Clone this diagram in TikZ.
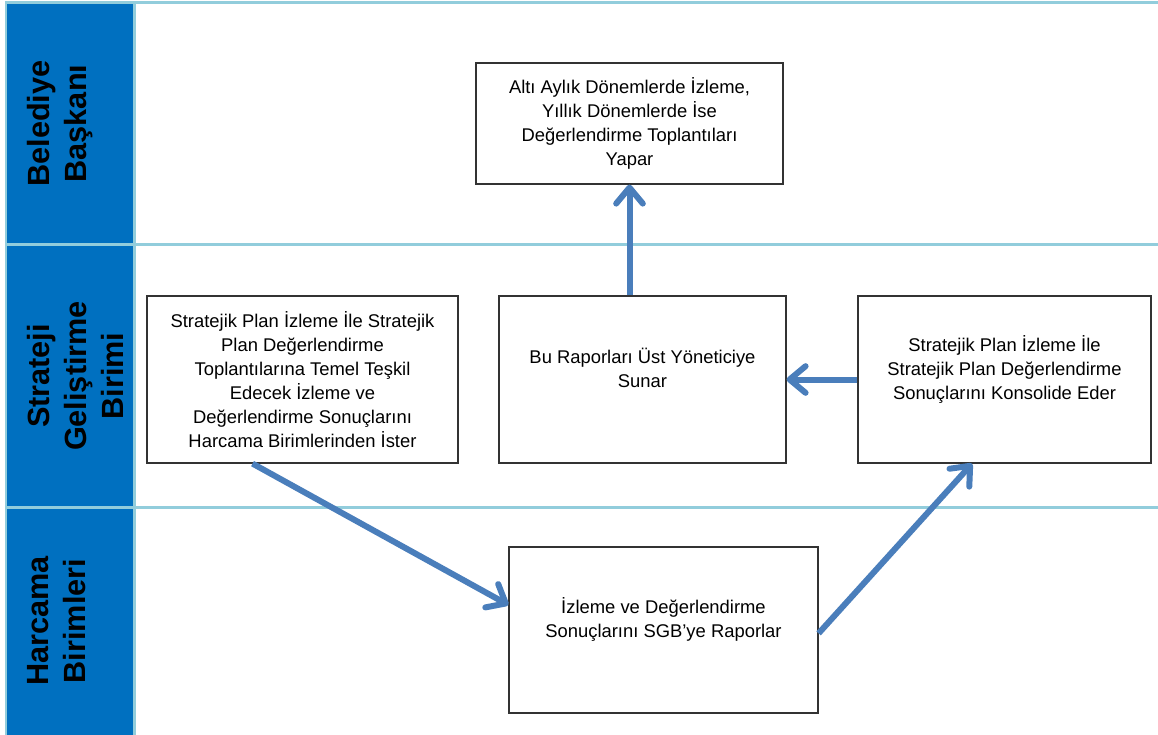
\documentclass[tikz,border=0pt]{standalone}
\usepackage{fontspec}
\setmainfont{Liberation Sans}
\usetikzlibrary{arrows.meta,calc}

\definecolor{lanefill}{HTML}{0070C0}
\definecolor{laneline}{HTML}{92CDDC}
\definecolor{flowblue}{HTML}{4A7EBB}

\begin{document}
\begin{tikzpicture}[x=0.75pt,y=-0.75pt,
	lanelabel/.style={rotate=90, anchor=north, align=center, inner sep=0pt, font=\fontsize{23}{27.75}\selectfont\bfseries},
	stepbox/.style={draw=black!80, line width=0.9pt, align=center, inner sep=0pt, font=\fontsize{13.8}{18}\selectfont},
	flow/.style={draw=flowblue, line width=4.5pt, -{Straight Barb[length=12pt,width=20pt,round]}},
	sep/.style={draw=laneline, line width=2.2pt}]
	\useasboundingbox (0,0) rectangle (1158,735);
	% swimlanes
	\fill[lanefill] (6,2) rectangle (134.5,735);
	\draw[sep] (6,735) -- (6,2.3) -- (1158,2.3);
	\draw[sep] (134.5,2.3) -- (134.5,735);
	\draw[sep] (6,244.5) -- (1158,244.5);
	\draw[sep] (6,507.3) -- (1158,507.3);
	\node[lanelabel] (baskan) at (27,123.5) {Belediye\\Başkanı};
	\node[lanelabel] (sgbirim) at (27,376) {Strateji\\Geliştirme\\Birimi};
	\node[lanelabel] (harcama) at (27,621) {Harcama\\Birimleri};
	% steps
	\node[stepbox, minimum width=230.25pt, minimum height=90.75pt] (toplanti) at (629.5,123.5)
		{Altı Aylık Dönemlerde İzleme,\\Yıllık Dönemlerde İse\\Değerlendirme Toplantıları\\Yapar};
	\node[stepbox, minimum width=233.25pt, minimum height=125.25pt] (iste) at (302.5,379.5)
		{Stratejik Plan İzleme İle Stratejik\\Plan Değerlendirme\\Toplantılarına Temel Teşkil\\Edecek İzleme ve\\Değerlendirme Sonuçlarını\\Harcama Birimlerinden İster};
	\node[stepbox, minimum width=215.25pt, minimum height=125.25pt] (sunar) at (642.5,379.5)
		{Bu Raporları Üst Yöneticiye\\Sunar\\\mbox{}};
	\node[stepbox, minimum width=219.75pt, minimum height=125.25pt] (konsolide) at (1004.5,379.5)
		{Stratejik Plan İzleme İle\\Stratejik Plan Değerlendirme\\Sonuçlarını Konsolide Eder\\\mbox{}};
	\node[stepbox, minimum width=231.75pt, minimum height=124.5pt] (rapor) at (663.5,630)
		{İzleme ve Değerlendirme\\Sonuçlarını SGB’ye Raporlar\\\mbox{}};
	% flow
	\draw[flow] ($(iste.south west)!0.34!(iste.south east)$) -- ($(rapor.north west)!0.35!(rapor.south west)$);
	\draw[flow] ($(rapor.north east)!0.52!(rapor.south east)$) -- ($(konsolide.south west)!0.39!(konsolide.south east)$);
	\draw[flow] (konsolide.west) -- (konsolide.west -| sunar.east);
	\draw[flow] (sunar.north -| toplanti.south) -- (toplanti.south);
\end{tikzpicture}
\end{document}
